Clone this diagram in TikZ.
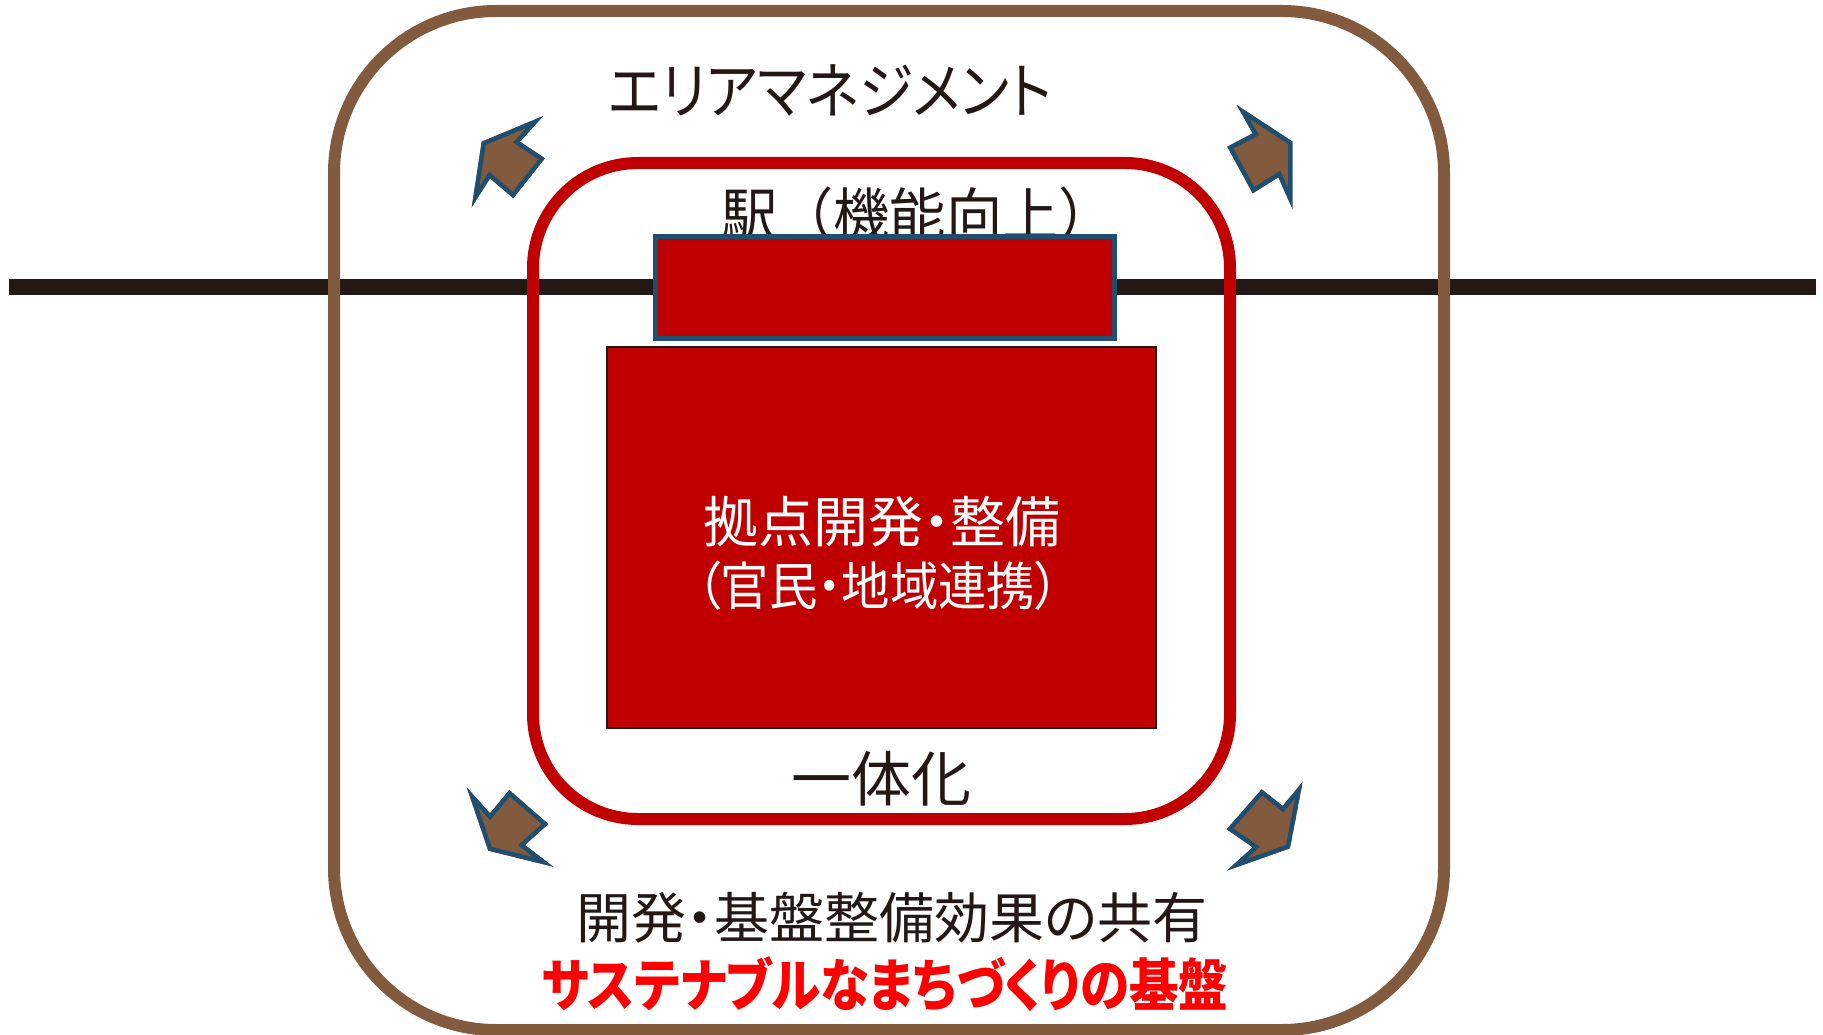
\documentclass[tikz,border=0pt]{standalone}
\usepackage{fontspec}
\usepackage{graphicx}
\newfontfamily\jp{Noto Sans CJK JP}
\newfontfamily\jpp{Noto Sans CJK JP}[RawFeature=+palt]
\definecolor{brn}{RGB}{130,91,62}
\definecolor{arrowline}{RGB}{31,78,110}
\definecolor{dred}{RGB}{192,0,0}
\definecolor{ink}{RGB}{35,24,21}
\definecolor{hired}{RGB}{255,0,0}
\newcommand{\arrowpoly}[1]{\begin{scope}\clip #1; \fill[brn] #1; \draw[arrowline, line width=9pt] #1;\end{scope}}
\begin{document}
\begin{tikzpicture}[x=1pt,y=-1pt,
  lbl/.style={inner sep=0pt, outer sep=0pt, text=ink, anchor=center},
  frame/.style={line width=12pt},
]
\useasboundingbox (0,0) rectangle (1823,1035);
% railway line
\coordinate (railW) at (9,287);
\coordinate (railE) at (1816,287);
\draw[ink, line width=16pt] (railW) -- (railE);
% outer area
\draw[frame, brn, rounded corners=162pt] (334,11) rectangle (1444,1030);
% inner area
\draw[frame, dred, rounded corners=105pt] (533,163) rectangle (1230,819);
% station label (partly hidden by the box)
\node[lbl] (stlabel) at (918,214) {\jp\fontsize{58}{60}\selectfont\scalebox{0.97}[1]{駅（機能向上）}};
% station box
\node[draw=arrowline, fill=dred, line width=5pt, minimum width=459pt, minimum height=102pt, inner sep=0pt] (station) at (885,287.5) {};
% development box
\node[draw=ink, fill=dred, line width=2pt, minimum width=549pt, minimum height=381pt, inner sep=0pt] (dev) at (881.5,537.5) {};
\node[lbl, text=white] (dev1) at (882,522) {\jpp\fontsize{55}{57}\selectfont 拠点開発・整備};
\node[lbl, text=white] (dev2) at (878,586) {\jpp\fontsize{52}{54}\selectfont\scalebox{0.93}[1]{（官民・地域連携）}};
% labels
\node[lbl] (am) at (830,90) {\jpp\fontsize{61}{63}\selectfont\scalebox{0.9}[1]{エリアマネジメント}};
\node[lbl] (ittai) at (881,779) {\jp\fontsize{60}{62}\selectfont 一体化};
\node[lbl] (share) at (892,918) {\jpp\fontsize{55}{57}\selectfont 開発・基盤整備効果の共有};
\node[lbl, text=hired] (sust) at (885,984) {\jpp\bfseries\fontsize{57}{59}\selectfont\scalebox{0.87}[1]{サステナブルなまちづくりの基盤}};
% arrows
\arrowpoly{(481.7,141.7) -- (543.3,116) -- (520,141.7) -- (545,158.3) -- (513.3,198.3) -- (490,178.3) -- (471.7,207.3) -- cycle}
\arrowpoly{(1292.7,141.7) -- (1236.7,105) -- (1252.7,133.3) -- (1227.3,146.7) -- (1252.7,193.3) -- (1278.3,177.3) -- (1292.7,209.3) -- cycle}
\arrowpoly{(488.3,850.7) -- (466.7,787.3) -- (490,813.3) -- (509.3,790) -- (548.3,824) -- (525,845) -- (553.3,866.7) -- cycle}
\arrowpoly{(1290,848.3) -- (1302.7,781.7) -- (1282.7,806) -- (1261.7,789.3) -- (1226.7,829.3) -- (1252.7,847.3) -- (1226.7,870.7) -- cycle}
\end{tikzpicture}
\end{document}
